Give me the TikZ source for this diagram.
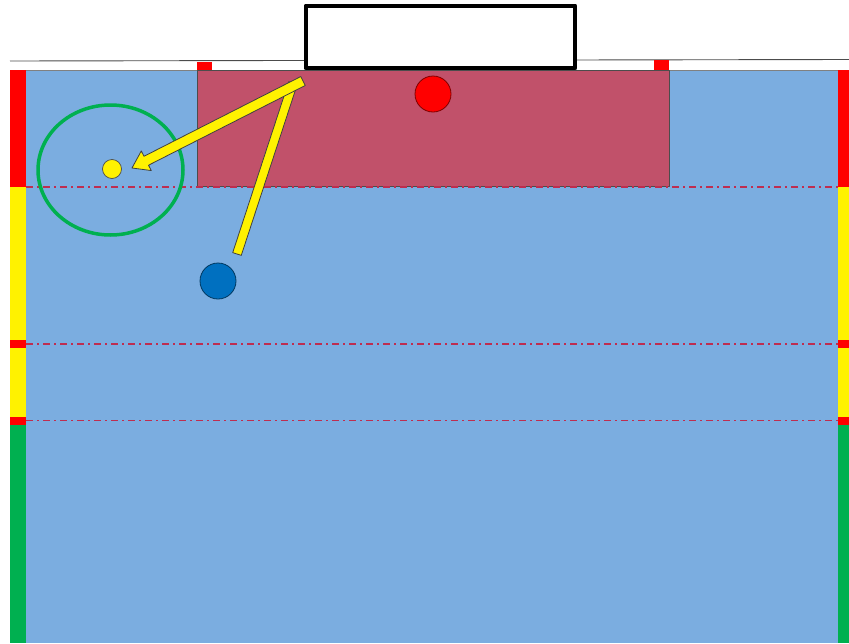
\documentclass[tikz,border=0pt]{standalone}
\usetikzlibrary{calc}
\definecolor{poolblue}{RGB}{123,173,224}
\definecolor{areared}{RGB}{193,81,106}
\definecolor{zonered}{RGB}{190,45,80}
\definecolor{stripgreen}{RGB}{0,176,80}
\definecolor{capblue}{RGB}{0,112,192}
\begin{document}
\begin{tikzpicture}[x=1pt, y=-1pt, line join=round,
  player/.style={circle, minimum size=36pt, inner sep=0pt, line width=0.8pt},
  zoneline/.style={draw=zonered, line width=1.4pt, dash pattern=on 7pt off 4pt on 2pt off 4pt},
  passbar/.style={fill=yellow, draw=black!75, line width=0.8pt}]
  \useasboundingbox (0,0) rectangle (849,643);

  % Top line
  \draw[gray!60!black, line width=0.9pt] (10,61) -- (849,59.5);

  % Pool and goal area
  \fill[poolblue] (26,70) rectangle (838,643);
  \draw[gray, line width=0.5pt] (26,70) -- (838,70);
  \filldraw[fill=areared, draw=gray!60!black, line width=0.5pt] (197,70) rectangle (669,186);
  \fill[red] (197,62) rectangle (212,70);
  \fill[red] (654,60) rectangle (669,70);

  % Side strips
  \foreach \sx in {10,838} {
    \fill[red] (\sx,70) rectangle ++(16,117);
    \fill[yellow] (\sx,187) rectangle ++(16,153);
    \fill[red] (\sx,340) rectangle ++(16,8);
    \fill[yellow] (\sx,348) rectangle ++(16,69);
    \fill[red] (\sx,417) rectangle ++(16,8);
    \fill[stripgreen] (\sx,425) rectangle ++(16,218);
  }

  % Zone lines
  \foreach \ly in {187,344,420.5}
    \draw[zoneline] (26,\ly) -- (838,\ly);

  % Goal
  \draw[line width=3.8pt, fill=white] (305.7,5.7) rectangle (575.3,68.3);

  % Players and ball
  \node[player, fill=red, draw=red!50!black] (keeper) at (433,94) {};
  \node[player, fill=capblue, draw=capblue!50!black] (attacker) at (218,281) {};
  \draw[stripgreen, line width=3.5pt] (110.5,170) ellipse [x radius=72.5, y radius=65];
  \node[circle, fill=yellow, draw=black!70, minimum size=19pt, inner sep=0pt, line width=0.7pt] (ball) at (112,169) {};

  % Passes
  \coordinate (link) at (293,83);
  \coordinate (drive) at (237,254);
  \coordinate (kick) at (303,81);
  \coordinate (aim) at (132,168);
  \coordinate (aimbase) at ($(aim)!16pt!(kick)$);
  \filldraw[passbar] ($(link)!4.5pt!90:(drive)$) -- ($(drive)!4.5pt!-90:(link)$)
    -- ($(drive)!4.5pt!90:(link)$) -- ($(link)!4.5pt!-90:(drive)$) -- cycle;
  \filldraw[passbar] ($(kick)!5pt!90:(aim)$) -- ($(aimbase)!5pt!-90:(kick)$)
    -- ($(aimbase)!11pt!-90:(kick)$) -- (aim) -- ($(aimbase)!11pt!90:(kick)$)
    -- ($(aimbase)!5pt!90:(kick)$) -- ($(kick)!5pt!-90:(aim)$) -- cycle;
\end{tikzpicture}
\end{document}
